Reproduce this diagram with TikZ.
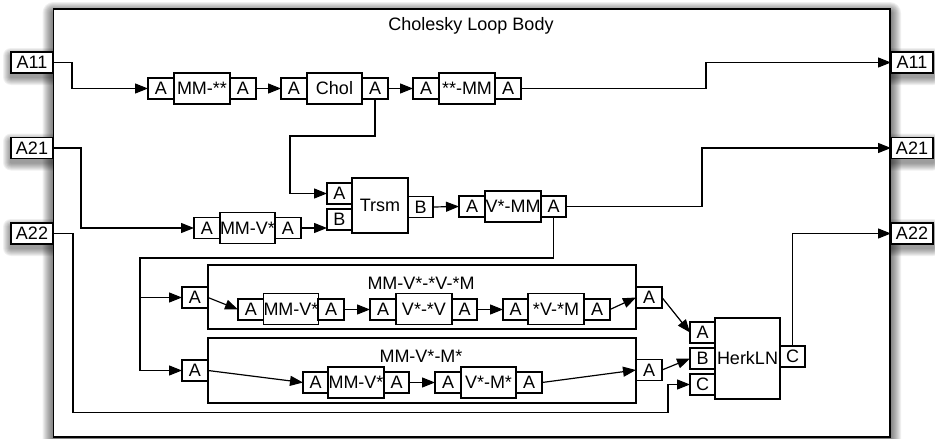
\documentclass[tikz,border=0pt]{standalone}
\usepackage{fontspec}
\setmainfont{Liberation Sans}
\usetikzlibrary{arrows.meta,backgrounds}
\newcommand\mysh[2]{%
  \foreach \i in {1,...,#2}{%
    \fill[black,opacity=0.06,rounded corners=\i pt]
      ([shift={(-\i,4-\i)}]#1.north west) rectangle ([shift={(\i,4+\i)}]#1.south east);}}
\begin{document}
\begin{tikzpicture}[x=1pt,y=-1pt,
  font=\fontsize{18}{20}\selectfont,
  every node/.style={inner sep=0pt, outer sep=0pt},
  lw/.style={line width=1.2pt},
  port/.style={draw, lw, fill=white, minimum width=26pt, minimum height=21pt},
  blk/.style={draw, lw, fill=white, minimum width=56pt, minimum height=31pt},
  io/.style={draw, lw, fill=white, minimum width=42pt, minimum height=21pt},
  arr/.style={lw, -{Triangle[length=13pt,width=10pt]}},
  wire/.style={lw}
]
\useasboundingbox (0,0) rectangle (935,439);
% outer box
\node[draw, line width=1.4pt, fill=white, minimum width=836.5pt, minimum height=428pt]
  (outer) at (471.75,223) {};
\node (title) at (471,26) {Cholesky Loop Body};

% IO ports
\node[io] (A11in) at (32,62.5) {A11};
\node[io] (A21in) at (32,148) {A21};
\node[io] (A22in) at (32,233.5) {A22};
\node[io] (A11out) at (912,62.5) {A11};
\node[io] (A21out) at (912,148) {A21};
\node[io] (A22out) at (912,233.5) {A22};

\begin{scope}[on background layer]
  \mysh{outer}{11}
  \mysh{A11in}{8} \mysh{A21in}{8} \mysh{A22in}{8}
  \mysh{A11out}{8} \mysh{A21out}{8} \mysh{A22out}{8}
\end{scope}

% Row 1
\node[port] (p1a) at (161,88.5) {A};
\node[blk]  (mmss) at (202,88.5) {MM-**};
\node[port] (p1b) at (243,88.5) {A};
\node[port] (p2a) at (294,88.5) {A};
\node[blk,minimum width=55pt] (chol) at (334.5,88.5) {Chol};
\node[port] (p2b) at (375,88.5) {A};
\node[port] (p3a) at (426,88.5) {A};
\node[blk]  (ssmm) at (467,88.5) {**-MM};
\node[port] (p3b) at (508,88.5) {A};

% Trsm
\node[draw,lw,fill=white,minimum width=56pt,minimum height=55pt] (trsm) at (380,205.5) {Trsm};
\node[port,minimum width=25pt] (tA) at (339.5,193.5) {A};
\node[port,minimum width=25pt] (tB) at (339.5,219.5) {B};
\node[port,minimum width=25pt] (tout) at (420.5,207) {B};

% V*-MM
\node[port] (p5a) at (472,206.5) {A};
\node[blk]  (vsmm) at (513,206.5) {V*-MM};
\node[port,minimum width=25pt] (p5b) at (553.5,206.5) {A};

% MM-V*
\node[port] (p4a) at (207,228) {A};
\node[blk,minimum width=55pt] (mmv) at (247.5,228) {MM-V*};
\node[port] (p4b) at (288,228) {A};

% Subsystem 1
\node[draw,lw,minimum width=428pt,minimum height=64pt] (sub1) at (422,297) {};
\node (sub1t) at (421,283) {MM-V*-*V-*M};
\node[port] (s1in) at (195,297.5) {A};
\node[port] (s1a) at (251,309.5) {A};
\node[blk,minimum width=54pt] (s1mmv) at (291,309) {MM-V*};
\node[port] (s1b) at (331,309.5) {A};
\node[port] (s1c) at (383,309.5) {A};
\node[blk] (s1vv) at (424,309) {V*-*V};
\node[port,minimum width=25pt] (s1d) at (464.5,309.5) {A};
\node[port,minimum width=25pt] (s1e) at (515.5,309.5) {A};
\node[blk] (s1vm) at (556,309) {*V-*M};
\node[port] (s1f) at (597,309.5) {A};
\node[port] (s1out) at (649,297.5) {A};

% Subsystem 2
\node[draw,lw,minimum width=428pt,minimum height=65pt] (sub2) at (422,370.5) {};
\node (sub2t) at (421,356) {MM-V*-M*};
\node[port] (s2in) at (195,370.5) {A};
\node[port,minimum width=25pt] (s2a) at (315.5,382.5) {A};
\node[blk] (s2mmv) at (356,382.5) {MM-V*};
\node[port,minimum width=25pt] (s2b) at (396.5,382.5) {A};
\node[port] (s2c) at (448,382.5) {A};
\node[blk,minimum width=55pt] (s2vm) at (488.5,382.5) {V*-M*};
\node[port] (s2d) at (529,382.5) {A};
\node[port] (s2out) at (649,370) {A};

% HerkLN
\node[draw,lw,fill=white,minimum width=65pt,minimum height=81pt] (herk) at (747.5,358.5) {HerkLN};
\node[port,minimum width=25pt] (hA) at (702.5,332.5) {A};
\node[port,minimum width=25pt] (hB) at (702.5,358.5) {B};
\node[port,minimum width=25pt] (hC) at (702.5,384.5) {C};
\node[port,minimum width=25pt] (hout) at (792.5,356.5) {C};

% connectors
\draw[arr] (A11in.east) -- ++(19,0) |- (p1a.west);
\draw[arr] (p1b.east) -- (p2a.west);
\draw[arr] (p2b.east) -- (p3a.west);
\draw[arr] (p3b.east) -- ++(185,0) |- (A11out.west);
\draw[arr] (p2b.south) -- ++(0,37) -- ++(-85,0) |- (tA.west);
\draw[arr] (A21in.east) -- ++(28,0) |- (p4a.west);
\draw[arr] (p4b.east) -- (p4b.east -| tB.west);
\draw[arr] (tout.east) -- (p5a.west);
\draw[arr] (p5b.east) -- ++(136,0) |- (A21out.west);
\coordinate (bus) at (140,258);
\draw[wire] (p5b.south) |- (bus) -- (bus |- s2in.west);
\draw[arr] (bus |- s1in.west) -- (s1in.west);
\draw[arr] (bus |- s2in.west) -- (s2in.west);
\draw[arr] (s1in.east) -- (s1a.west);
\draw[arr] (s1b.east) -- (s1c.west);
\draw[arr] (s1d.east) -- (s1e.west);
\draw[arr] (s1f.east) -- (s1out.west);
\draw[arr] (s2in.east) -- (s2a.west);
\draw[arr] (s2b.east) -- (s2c.west);
\draw[arr] (s2d.east) -- (s2out.west);
\draw[arr] (s1out.east) -- (hA.west);
\draw[arr] (s2out.east) -- (hB.west);
\draw[arr] (A22in.east) -- ++(20,0) -- ++(0,179) -- ++(595,0) |- (hC.west);
\draw[arr] (hout.north) |- (A22out.west);
\end{tikzpicture}
\end{document}
